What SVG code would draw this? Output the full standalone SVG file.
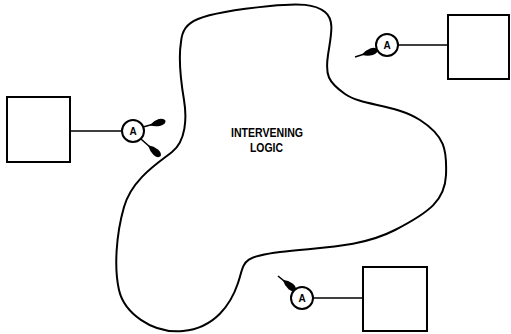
<svg xmlns="http://www.w3.org/2000/svg" width="511" height="334" viewBox="0 0 511 334">
<style>
.box{fill:#fff;stroke:#000;stroke-width:2}
.blob{fill:none;stroke:#000;stroke-width:2;stroke-linejoin:round}
.wire{stroke:#000;stroke-width:1.6;fill:none}
.ptr{stroke:#000;stroke-width:1.6;fill:none;marker-end:url(#tear)}
.ring{fill:#fff;stroke:#000;stroke-width:2}
.lbl{font-family:"Liberation Sans",Arial,sans-serif;font-weight:bold;fill:#000;text-anchor:middle}
</style>
<defs>
<marker id="tear" markerUnits="userSpaceOnUse" markerWidth="17" markerHeight="9" viewBox="0 0 17 9" refX="16" refY="4.5" orient="auto">
<path d="M0,4.5 Q5,1.2 10.5,1 Q16,1.2 16.5,4.5 Q16,7.8 10.5,8 Q5,7.8 0,4.5 Z" fill="#000"/>
</marker>
</defs>
<g id="logic">
<path class="blob" d="M181,42 C182,31 186,24 198,19 S240,9 270,6 S315,4 325,12 S331,35 328,55 S328,82 345,94 S395,104 420,120 S447,150 446,175 S430,212 395,230 S320,247 280,252 S245,262 238,283 S215,328 183,331 S124,312 119,290 S116,235 124,207 S158,163 172,152 S187,118 184,100 S178,60 181,42 Z"/>
<text class="lbl" x="267" y="137" font-size="12" textLength="72" lengthAdjust="spacingAndGlyphs">INTERVENING</text>
<text class="lbl" x="266.5" y="152" font-size="12" textLength="33" lengthAdjust="spacingAndGlyphs">LOGIC</text>
</g>
<g id="connectors">
<line class="wire" x1="70" y1="131" x2="122" y2="131"/>
<line class="wire" x1="398" y1="45" x2="448" y2="45"/>
<line class="wire" x1="313" y1="298" x2="363" y2="298"/>
<line class="ptr" x1="143" y1="127" x2="165" y2="121"/>
<line class="ptr" x1="141" y1="139" x2="160" y2="156"/>
<line class="ptr" x1="355" y1="57" x2="377" y2="50"/>
<line class="ptr" x1="278" y1="276" x2="295" y2="290"/>
</g>
<g id="box-left"><rect class="box" x="7" y="97" width="63" height="65"/></g>
<g id="box-top-right"><rect class="box" x="448" y="15" width="61" height="64"/></g>
<g id="box-bottom"><rect class="box" x="363" y="267" width="64" height="64"/></g>
<g id="a-left"><circle class="ring" cx="133" cy="131" r="11"/><text class="lbl" x="133" y="135" font-size="10">A</text></g>
<g id="a-top-right"><circle class="ring" cx="387" cy="45" r="11"/><text class="lbl" x="387" y="49" font-size="10">A</text></g>
<g id="a-bottom"><circle class="ring" cx="302" cy="298" r="11"/><text class="lbl" x="302" y="302" font-size="10">A</text></g>
</svg>
